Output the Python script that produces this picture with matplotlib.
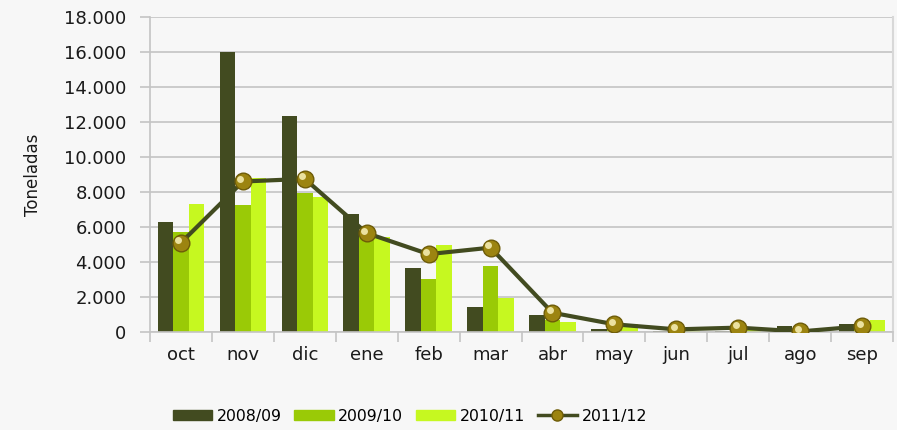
import numpy as np
import matplotlib
matplotlib.use('Agg')
import matplotlib.pyplot as plt
from matplotlib.ticker import FuncFormatter, FixedLocator
from matplotlib.patches import Patch
from matplotlib.lines import Line2D

# datos (toneladas)
meses = ['oct', 'nov', 'dic', 'ene', 'feb', 'mar', 'abr', 'may', 'jun', 'jul', 'ago', 'sep']
t2008 = [6300, 16000, 12350, 6750, 3650, 1430, 950, 200, 40, 80, 330, 480]
t2009 = [5700, 7250, 7950, 5650, 3030, 3780, 700, 150, 30, 60, 50, 400]
t2010 = [7300, 8800, 7730, 5450, 4980, 1960, 600, 450, 50, 100, 30, 680]
t2011 = [5100, 8600, 8750, 5650, 4450, 4820, 1100, 440, 150, 250, 30, 330]
series = ['2008/09', '2009/10', '2010/11', '2011/12']

c_dark = '#424b20'
c_mid = '#9aca06'
c_light = '#c6f820'
fondo = '#f7f7f7'
gris = '#c4c4c4'

plt.rcParams['font.family'] = ['DejaVu Sans']

fig = plt.figure(figsize=(8.97, 4.30), dpi=100, facecolor=fondo)
ax = fig.add_axes([150/897, 1 - 332/430, 743/897, 315/430])
ax.set_facecolor(fondo)

x = np.arange(len(meses))
w = 0.25
ax.bar(x - w, t2008, w, color=c_dark, zorder=2)
ax.bar(x, t2009, w, color=c_mid, zorder=2)
ax.bar(x + w, t2010, w, color=c_light, zorder=2)

# linea con marcadores dorados
ax.plot(x, t2011, color=c_dark, lw=3, zorder=3)
ax.plot(x, t2011, ls='none', marker='o', ms=12, mfc='#9c8410', mec='#6e5c08', mew=1, zorder=4)
ax.plot(x - 0.04, np.array(t2011) + 150, ls='none', marker='o', ms=5, mfc='#f4ecb0', mec='none', alpha=0.9, zorder=5)

ax.set_xlim(-0.5, len(meses) - 0.5)
ax.set_ylim(0, 18000)
ax.set_yticks(np.arange(0, 18001, 2000))
ax.yaxis.set_major_formatter(FuncFormatter(lambda v, p: f'{int(v):,}'.replace(',', '.')))
ax.grid(axis='y', color=gris, lw=1.2, zorder=0)

ax.set_xticks(x)
ax.set_xticklabels(meses, fontsize=13, color='#1a1a1a')
ax.xaxis.set_minor_locator(FixedLocator(np.arange(-0.5, len(meses), 1)))
ax.tick_params(axis='x', which='major', length=0, pad=10)
ax.tick_params(axis='x', which='minor', length=7, color=gris, width=1.2)
ax.tick_params(axis='y', length=7, color=gris, width=1.2, labelsize=13, labelcolor='#1a1a1a', pad=10)

ax.spines['top'].set_visible(False)
ax.spines['right'].set_color('#d8d8d8')
ax.spines['right'].set_linewidth(1.5)
for s in ['left', 'bottom']:
    ax.spines[s].set_color(gris)
    ax.spines[s].set_linewidth(1.2)

ax.set_ylabel('Toneladas', fontsize=12, color='#1a1a1a', labelpad=16)

handles = [
    Patch(color=c_dark),
    Patch(color=c_mid),
    Patch(color=c_light),
    Line2D([], [], color=c_dark, lw=2.5, marker='o', ms=8, mfc='#9c8410', mec='#6e5c08'),
]
fig.legend(handles, series, loc='center', bbox_to_anchor=(0.457, 1 - 416/430), ncol=4,
           frameon=False, fontsize=11.3, handlelength=2.5, handleheight=0.65,
           columnspacing=0.8, handletextpad=0.3)

fig.savefig('out.png', dpi=100, facecolor=fondo)
